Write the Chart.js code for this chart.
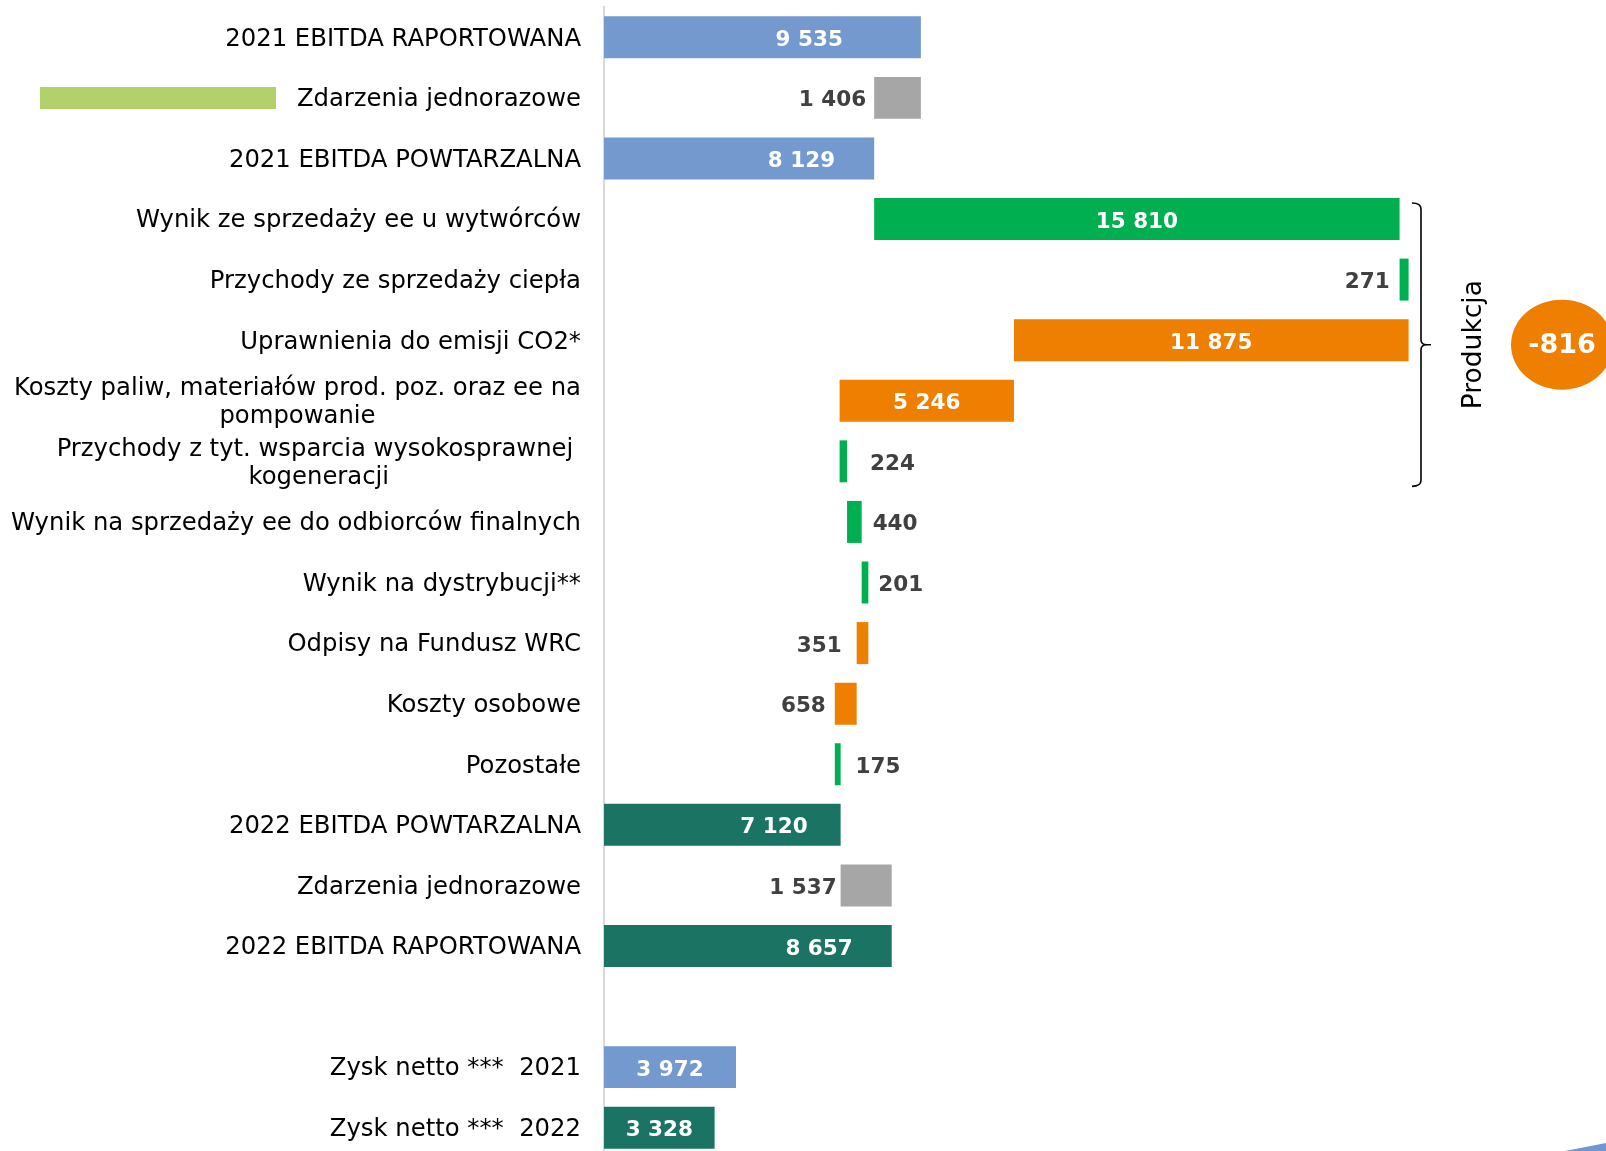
<!DOCTYPE html>
<html><head><meta charset="utf-8">
<script src="https://cdn.jsdelivr.net/npm/chart.js@4.4.1/dist/chart.umd.min.js"></script>
<style>
html,body{margin:0;padding:0;background:#fff;overflow:hidden;}
#wrap{width:1606px;height:1151px;overflow:hidden;position:relative;background:#fff;}
canvas{display:block;}
</style></head><body>
<div id="wrap"><canvas id="c" width="1606" height="1158"></canvas></div>
<script>
// ---------- DATA ----------
const categories = [
  '2021 EBITDA RAPORTOWANA',
  'Zdarzenia jednorazowe',
  '2021 EBITDA POWTARZALNA',
  'Wynik ze sprzedaży ee u wytwórców',
  'Przychody ze sprzedaży ciepła',
  'Uprawnienia do emisji CO2*',
  ['Koszty paliw, materiałów prod. poz. oraz ee na', 'pompowanie'],
  ['Przychody z tyt. wsparcia wysokosprawnej ', 'kogeneracji'],
  'Wynik na sprzedaży ee do odbiorców finalnych',
  'Wynik na dystrybucji**',
  'Odpisy na Fundusz WRC',
  'Koszty osobowe',
  'Pozostałe',
  '2022 EBITDA POWTARZALNA',
  'Zdarzenia jednorazowe',
  '2022 EBITDA RAPORTOWANA',
  '',
  'Zysk netto ***  2021',
  'Zysk netto ***  2022'
];
const values = [9535, -1406, 8129, 15810, 271, -11875, -5246, 224, 440, 201, -351, -658, 175, 7120, 1537, 8657, null, 3972, 3328];
const kinds  = ['total','delta','total','delta','delta','delta','delta','delta','delta','delta','delta','delta','delta','total','delta','total','none','total','total'];
const productionGroup = [3, 4, 5, 6, 7];
const productionTitle = 'Produkcja';

// ---------- STYLE ----------
const BLUE = '#7399CF', GRAY = '#A6A6A6', GREEN = '#00B050', ORANGE = '#EF7F00', TEAL = '#1B7463';
const barColors = [BLUE, GRAY, BLUE, GREEN, GREEN, ORANGE, ORANGE, GREEN, GREEN, GREEN, ORANGE, ORANGE, GREEN, TEAL, GRAY, TEAL, 'rgba(0,0,0,0)', BLUE, TEAL];
const labelPos = ['inEnd','left','inEnd','center','left','center','center','right','right','right','left','left','right','inEnd','left','inEnd',null,'center','center'];
const labelGap = [78, 8, 39, 0, 10, 0, 0, 23, 11, 10, 15, 9, 15, 33, 4, 39, 0, 0, 0];

// ---------- BUILD FLOATING RANGES ----------
let running = 0;
const ranges = values.map((v, i) => {
  if (kinds[i] === 'none' || v == null) return null;
  if (kinds[i] === 'total') { running = v; return [0, v]; }
  const s = running; running += v;
  return [Math.min(s, running), Math.max(s, running)];
});
const fmt = n => String(Math.abs(n)).replace(/\B(?=(\d{3})+(?!\d))/g, ' ');
const FONT = '"DejaVu Sans", Verdana, sans-serif';

const decorPlugin = {
  id: 'decor',
  afterDraw(chart) {
    const ctx = chart.ctx;
    const yS = chart.scales.y;
    ctx.save();
    // category labels
    ctx.font = '24.3px ' + FONT;
    ctx.fillStyle = '#000';
    ctx.textBaseline = 'middle';
    ctx.textAlign = 'center';
    const labelRight = 581;
    categories.forEach((lab, i) => {
      const lines = Array.isArray(lab) ? lab : [lab];
      if (!lines.join('')) return;
      const y = yS.getPixelForValue(i) + 2;
      const w = Math.max(...lines.map(l => ctx.measureText(l).width));
      const cx = labelRight - w / 2;
      lines.forEach((l, j) => ctx.fillText(l, cx, y + (j - (lines.length - 1) / 2) * 28));
    });

    // legend-like swatch
    ctx.fillStyle = '#B2D16B';
    ctx.fillRect(40, 87, 236, 22);

    // data labels
    const meta = chart.getDatasetMeta(0);
    ctx.font = 'bold 21.5px ' + FONT;
    meta.data.forEach((el, i) => {
      if (!ranges[i] || !labelPos[i]) return;
      const left = Math.min(el.x, el.base), right = Math.max(el.x, el.base);
      const y = el.y + 3;
      const txt = fmt(values[i]);
      const pos = labelPos[i];
      if (pos === 'center') { ctx.textAlign = 'center'; ctx.fillStyle = '#fff'; ctx.fillText(txt, (left + right) / 2, y); }
      else if (pos === 'inEnd') { ctx.textAlign = 'right'; ctx.fillStyle = '#fff'; ctx.fillText(txt, right - labelGap[i], y); }
      else if (pos === 'left') { ctx.textAlign = 'right'; ctx.fillStyle = '#404040'; ctx.fillText(txt, left - labelGap[i], y); }
      else { ctx.textAlign = 'left'; ctx.fillStyle = '#404040'; ctx.fillText(txt, right + labelGap[i], y); }
    });

    // bracket for production group
    const gTop = yS.getPixelForValue(productionGroup[0]) - 16;
    const gBot = yS.getPixelForValue(productionGroup[productionGroup.length - 1]) + 25;
    const mid = (gTop + gBot) / 2;
    const bx = 1421;
    ctx.strokeStyle = '#000'; ctx.lineWidth = 1.6;
    ctx.beginPath();
    ctx.moveTo(bx - 9, gTop);
    ctx.quadraticCurveTo(bx, gTop, bx, gTop + 6);
    ctx.lineTo(bx, mid - 5);
    ctx.quadraticCurveTo(bx, mid, bx + 6, mid);
    ctx.lineTo(bx + 10, mid);
    ctx.moveTo(bx + 6, mid);
    ctx.quadraticCurveTo(bx, mid, bx, mid + 5);
    ctx.lineTo(bx, gBot - 6);
    ctx.quadraticCurveTo(bx, gBot, bx - 9, gBot);
    ctx.stroke();

    // rotated title
    ctx.save();
    ctx.translate(1474, mid);
    ctx.rotate(-Math.PI / 2);
    ctx.font = '26.5px ' + FONT;
    ctx.fillStyle = '#000';
    ctx.textAlign = 'center';
    ctx.textBaseline = 'middle';
    ctx.fillText(productionTitle, 0, 0);
    ctx.restore();

    // bubble with group sum
    const sum = productionGroup.reduce((a, i) => a + values[i], 0);
    ctx.fillStyle = ORANGE;
    ctx.beginPath();
    ctx.ellipse(1562, mid, 51, 45, 0, 0, Math.PI * 2);
    ctx.fill();
    ctx.fillStyle = '#fff';
    ctx.font = 'bold 27px ' + FONT;
    ctx.textAlign = 'center';
    ctx.textBaseline = 'middle';
    ctx.fillText(String(sum), 1562, mid + 1);

    // corner decoration
    ctx.fillStyle = '#7097D0';
    ctx.beginPath();
    ctx.moveTo(1565, 1151); ctx.lineTo(1606, 1143); ctx.lineTo(1606, 1151); ctx.closePath();
    ctx.fill();
    ctx.restore();
  }
};

new Chart(document.getElementById('c').getContext('2d'), {
  type: 'bar',
  data: {
    labels: categories,
    datasets: [{
      data: ranges,
      backgroundColor: barColors,
      borderWidth: 0,
      barPercentage: 0.693,
      categoryPercentage: 1
    }]
  },
  options: {
    indexAxis: 'y',
    responsive: false,
    animation: false,
    layout: { padding: { top: 7, left: 0, right: 0, bottom: 0 } },
    plugins: { legend: { display: false }, tooltip: { enabled: false } },
    scales: {
      x: { display: false, min: 0, max: 30150 },
      y: {
        position: 'left',
        grid: { display: false, drawTicks: false },
        border: { display: true, color: '#D9D9D9', width: 2 },
        ticks: { display: false },
        afterFit(s) { s.width = 604; }
      }
    }
  },
  plugins: [decorPlugin]
});
</script>
</body></html>
